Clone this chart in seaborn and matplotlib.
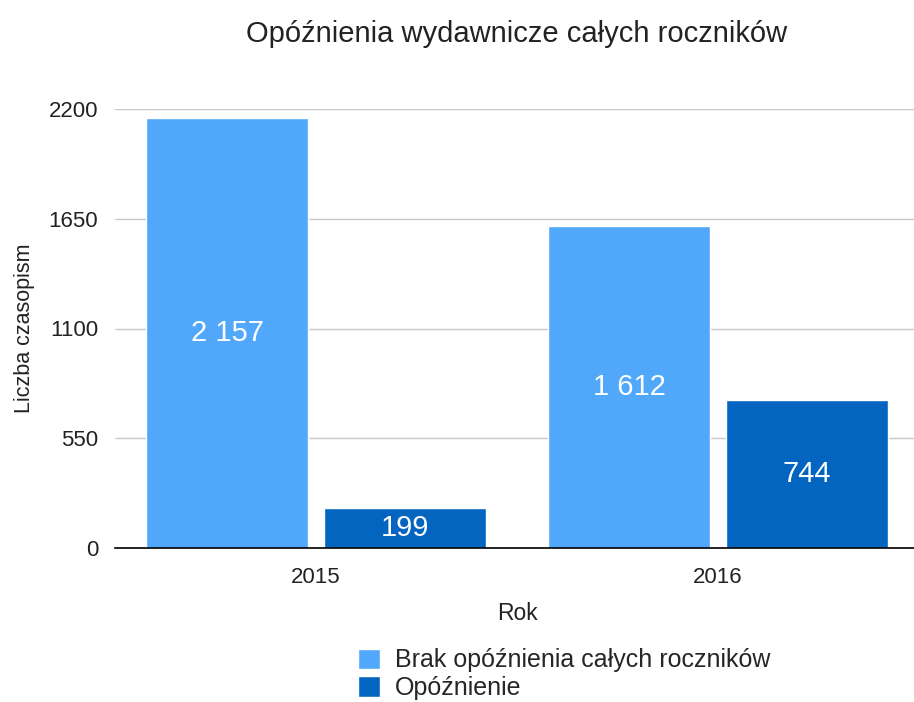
import pandas as pd
import matplotlib.pyplot as plt
import seaborn as sns

# dane
lata = ['2015', '2016']
serie = ['Brak opóźnienia całych roczników', 'Opóźnienie']
brak_opoznienia = [2157, 1612]
opoznienie = [199, 744]
kolory = ['#51A7F9', '#0365C0']

df = pd.DataFrame({
    'Rok': lata * 2,
    'Seria': [serie[0]] * 2 + [serie[1]] * 2,
    'Liczba': brak_opoznienia + opoznienie,
})

sns.set_style('white')
plt.rcParams['font.family'] = ['Liberation Sans', 'DejaVu Sans']

fig = plt.figure(figsize=(9.14, 7.02), dpi=100)
ax = fig.add_axes([115 / 914, 154 / 702, 804 / 914, 439 / 702])

sns.barplot(data=df, x='Rok', y='Liczba', hue='Seria', palette=kolory,
            width=0.885, gap=0.09, saturation=1, ax=ax, legend=True)

for cont in ax.containers:
    etykiety = [f'{v:,.0f}'.replace(',', ' ') for v in cont.datavalues]
    ax.bar_label(cont, labels=etykiety, label_type='center', color='white', fontsize=21)

ax.set_ylim(0, 2200)
ax.set_xlim(-0.5, 1.5)
ax.set_yticks([0, 550, 1100, 1650, 2200])
ax.yaxis.grid(True, color='#c8c8c8', linewidth=1)
ax.set_axisbelow(True)
for s in ['top', 'right', 'left']:
    ax.spines[s].set_visible(False)
ax.spines['bottom'].set_color('black')
ax.spines['bottom'].set_linewidth(1.2)
ax.tick_params(axis='both', length=0, labelsize=16, colors='#222222')
ax.tick_params(axis='y', pad=12)
ax.tick_params(axis='x', pad=14)

ax.set_xlabel('Rok', fontsize=16.5, labelpad=10, color='#222222')
ax.set_ylabel('Liczba czasopism', fontsize=15.5, labelpad=10, color='#222222')
ax.set_title('Opóźnienia wydawnicze całych roczników', fontsize=21, pad=48, color='#222222')

ax.legend(loc='upper left', bbox_to_anchor=(345 / 914, 66 / 702), bbox_transform=fig.transFigure,
          frameon=False, fontsize=18, handlelength=0.9, handleheight=0.9, handletextpad=0.6,
          labelspacing=0.15, borderpad=0, title=None)

fig.savefig('out.png', dpi=100)
